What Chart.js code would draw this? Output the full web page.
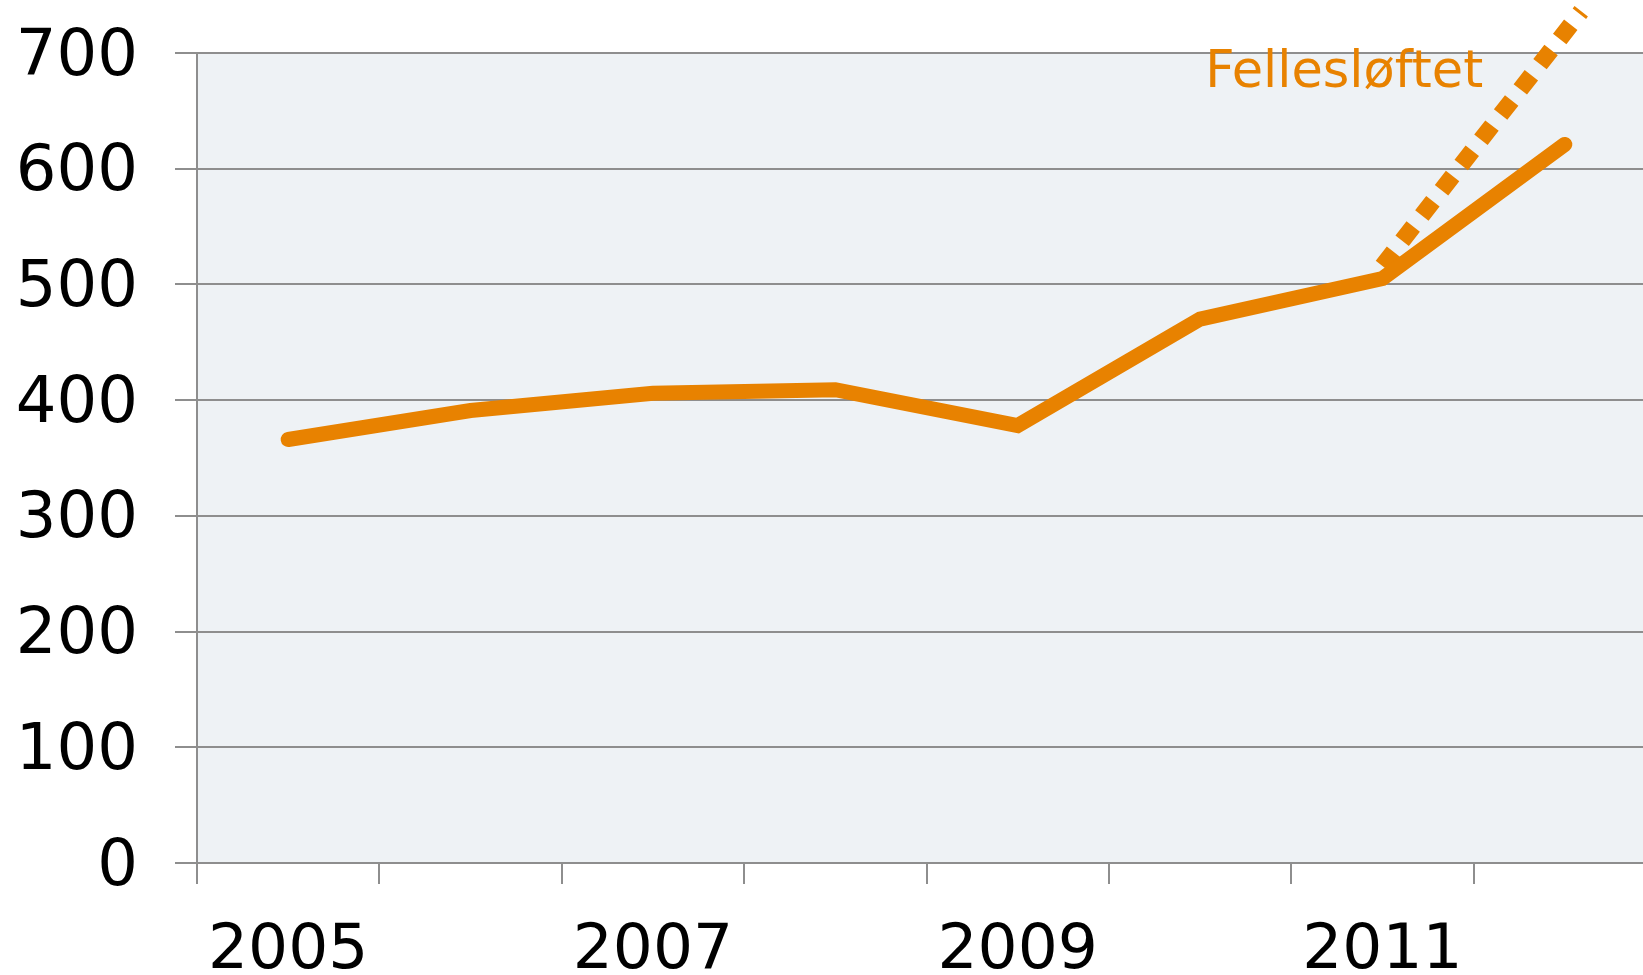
<!DOCTYPE html>
<html>
<head>
<meta charset="utf-8">
<script src="https://cdn.jsdelivr.net/npm/chart.js@4/dist/chart.umd.min.js"></script>
<style>
  html,body{margin:0;padding:0;background:#fff;overflow:hidden;}
  #wrap{width:1656px;height:975px;}
</style>
</head>
<body>
<div id="wrap"><canvas id="c"></canvas></div>
<script>
const years = ['2005','2006','2007','2008','2009','2010','2011','2012'];
const values = [366, 391, 406, 409, 378, 470, 505, 621];
// Fellesløftet: dotted line from 2011, running slightly past 2012
const liftYears = [2011, 2012.09];
const liftValues = [516, 736];
const yTicks = [0, 100, 200, 300, 400, 500, 600, 700];
const shownYears = ['2005','2007','2009','2011'];

const ORANGE = '#e88200';
const GRID = '#8e8e8e';
const FONT = '"DejaVu Sans", Verdana, sans-serif';

const PlotBg = {
  id:'plotBg',
  beforeDraw(chart){
    const {ctx, chartArea:{left,top,width,height}} = chart;
    ctx.save(); ctx.fillStyle='#eef2f5'; ctx.fillRect(left,top,width,height); ctx.restore();
  }
};
const LiftLabel = {
  id:'liftLabel',
  afterDatasetsDraw(chart){
    const {ctx, scales:{x,y}} = chart;
    const step = x.getPixelForValue(7) - x.getPixelForValue(6);
    ctx.save();
    ctx.fillStyle=ORANGE; ctx.font='51px '+FONT;
    ctx.textAlign='center'; ctx.textBaseline='alphabetic';
    ctx.fillText('Fellesløftet', x.getPixelForValue(6) - 0.21*step, y.getPixelForValue(671));
    ctx.restore();
  }
};

new Chart(document.getElementById('c'), {
  type:'line',
  data:{
    labels: years,
    datasets:[
      {data: values, borderColor: ORANGE, borderWidth: 15, borderCapStyle:'round',
       borderJoinStyle:'miter', pointRadius: 0, tension: 0, fill: false},
      {data: liftYears.map((yr,i)=>({x: yr, y: liftValues[i]})), xAxisID:'xd',
       borderColor: ORANGE, borderWidth: 17, borderDash:[18,14], borderCapStyle:'butt',
       pointRadius: 0, tension: 0, fill: false, clip: false}
    ]
  },
  options:{
    responsive:true, maintainAspectRatio:false, animation:false,
    layout:{padding:{top:53, left:0, right:0, bottom:0}},
    plugins:{legend:{display:false}, tooltip:{enabled:false}},
    scales:{
      x:{
        offset:true,
        grid:{display:true, offset:true, drawOnChartArea:false, drawTicks:true, tickLength:21,
              color:GRID, lineWidth:2},
        border:{display:true, color:GRID, width:2},
        ticks:{autoSkip:false, maxRotation:0, padding:30, color:'#000',
               font:{family:FONT, size:63},
               callback:(v,i)=> shownYears.includes(years[i]) ? years[i] : ''},
        afterFit:s=>{ s.height = 112; s.paddingLeft = 0; s.paddingRight = 0; }
      },
      xd:{type:'linear', display:false, min:2004.5, max:2012.5},
      y:{
        min:0, max:700,
        afterBuildTicks:s=>{ s.ticks = yTicks.map(v=>({value:v})); },
        grid:{color:GRID, lineWidth:2, tickLength:22, drawTicks:true},
        border:{display:true, color:GRID, width:2},
        ticks:{padding:37, labelOffset:5, color:'#000', font:{family:FONT, size:64}},
        afterFit:s=>{ s.width = 197; s.paddingTop = 0; s.paddingBottom = 0; }
      }
    }
  },
  plugins:[PlotBg, LiftLabel]
});
</script>
</body>
</html>
